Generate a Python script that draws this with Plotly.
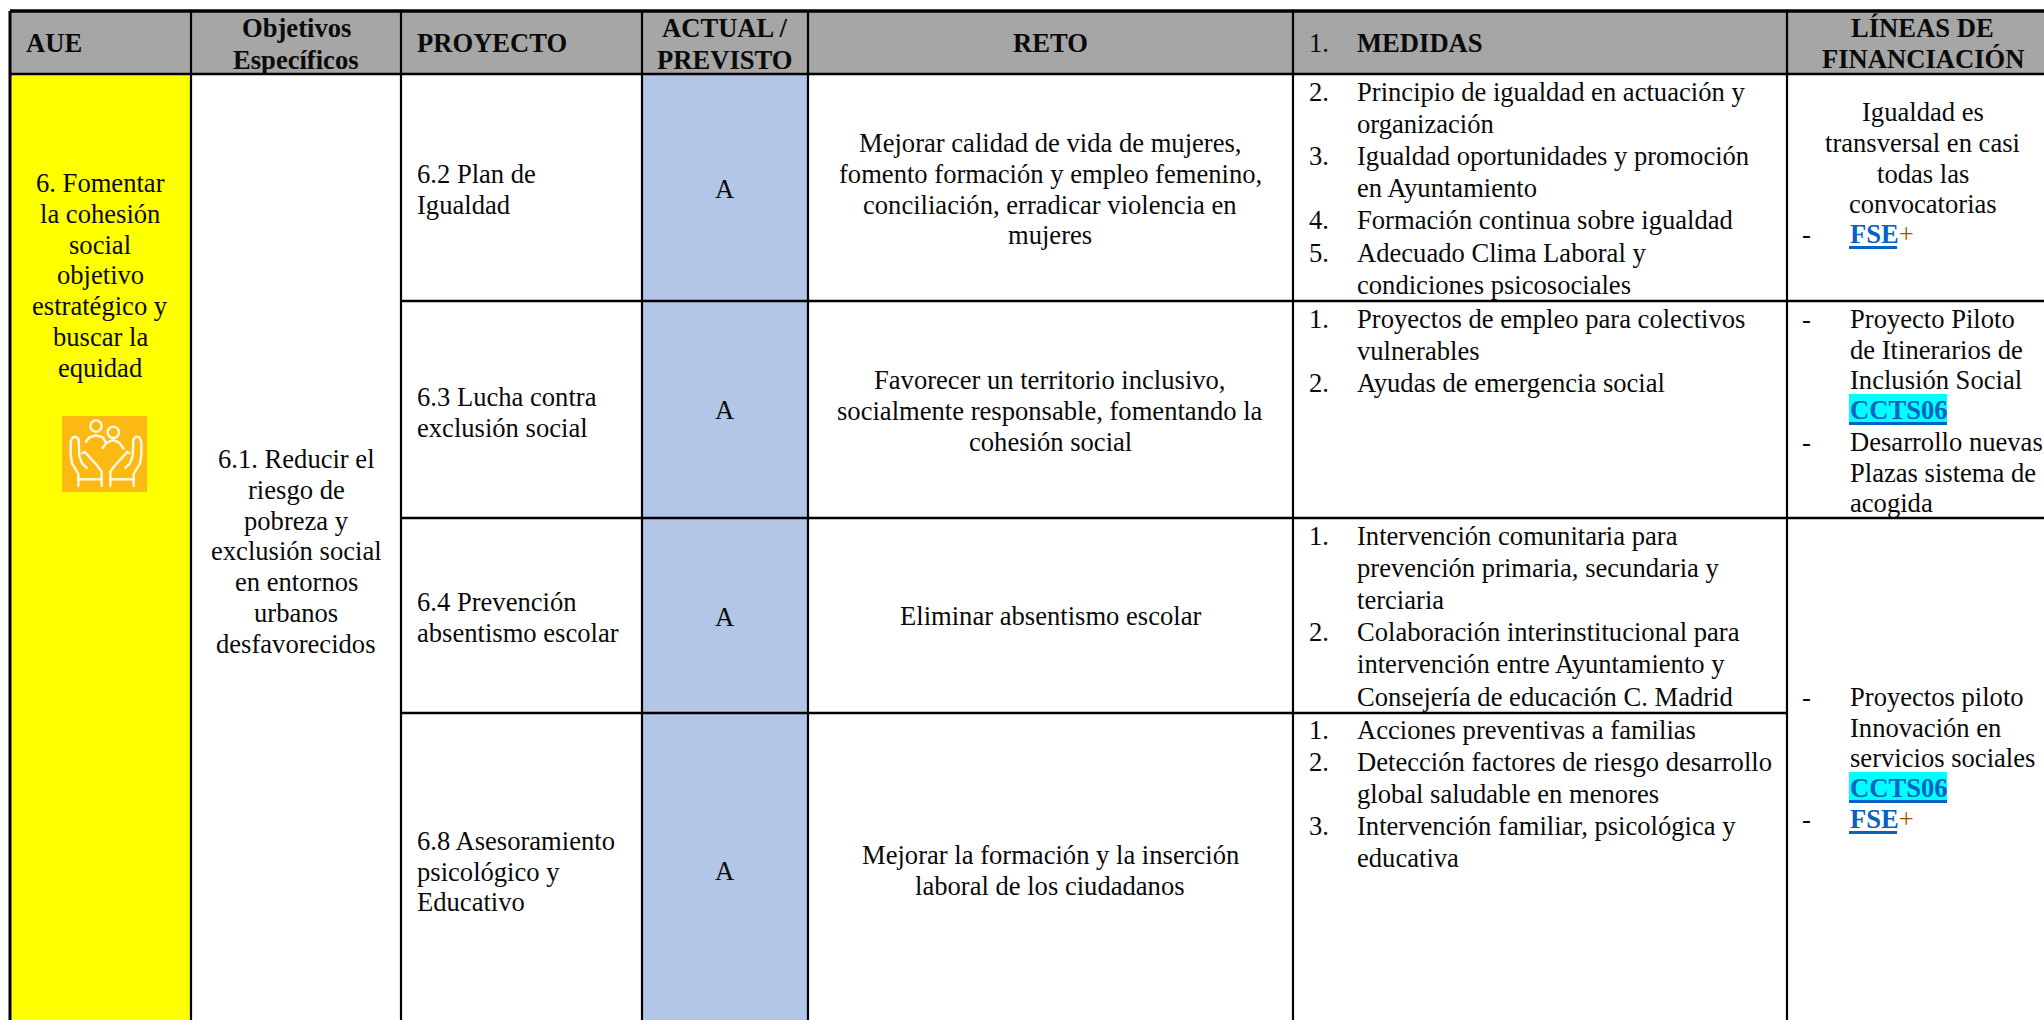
import plotly.graph_objects as go

W, H = 2044, 1020
FONT = "Liberation Serif"
BODY = 26.6
HEAD = 26.6

# ---- content ----
header_single = ["AUE", "PROYECTO", "RETO", "MEDIDAS"]
objetivos_head = ["Objetivos", "Específicos"]
actual_head = ["ACTUAL /", "PREVISTO"]
lineas_head = ["LÍNEAS DE", "FINANCIACIÓN"]
aue_lines = ["6. Fomentar", "la cohesión", "social", "objetivo", "estratégico y", "buscar la", "equidad"]
objetivo_lines = ["6.1. Reducir el", "riesgo de", "pobreza y", "exclusión social", "en entornos", "urbanos", "desfavorecidos"]
proyectos = [["6.2 Plan de", "Igualdad"], ["6.3 Lucha contra", "exclusión social"],
             ["6.4 Prevención", "absentismo escolar"], ["6.8 Asesoramiento", "psicológico y", "Educativo"]]
actual_values = ["A", "A", "A", "A"]
retos = [["Mejorar calidad de vida de mujeres,", "fomento formación y empleo femenino,",
          "conciliación, erradicar violencia en", "mujeres"],
         ["Favorecer un territorio inclusivo,", "socialmente responsable, fomentando la", "cohesión social"],
         ["Eliminar absentismo escolar"],
         ["Mejorar la formación y la inserción", "laboral de los ciudadanos"]]
medidas_num = [["2.", "", "3.", "", "4.", "5.", ""], ["1.", "", "2."], ["1.", "", "", "2.", "", ""], ["1.", "2.", "", "3.", ""]]
medidas = [["Principio de igualdad en actuación y", "organización", "Igualdad oportunidades y promoción",
            "en Ayuntamiento", "Formación continua sobre igualdad", "Adecuado Clima Laboral y", "condiciones psicosociales"],
           ["Proyectos de empleo para colectivos", "vulnerables", "Ayudas de emergencia social"],
           ["Intervención comunitaria para", "prevención primaria, secundaria y", "terciaria",
            "Colaboración interinstitucional para", "intervención entre Ayuntamiento y", "Consejería de educación C. Madrid"],
           ["Acciones preventivas a familias", "Detección factores de riesgo desarrollo", "global saludable en menores",
            "Intervención familiar, psicológica y", "educativa"]]
fin_center = ["Igualdad es", "transversal en casi", "todas las", "convocatorias"]
fin_row2a = ["Proyecto Piloto", "de Itinerarios de", "Inclusión Social"]
fin_row2b = ["Desarrollo nuevas", "Plazas sistema de", "acogida"]
fin_row3 = ["Proyectos piloto", "Innovación en", "servicios sociales"]
LINK_FSE, LINK_PLUS, LINK_CCTS = "FSE", "+", "CCTS06"

# ---- layout (pixels) ----
COLS = [10, 191, 401, 642, 808, 1293, 1787]
ROWS = [11, 74, 301, 518, 713, 1020]
C_HEAD, C_YEL, C_BLUE, C_ORANGE, C_CYAN = "#a6a6a6", "#ffff00", "#b4c6e7", "#fdb913", "#00ffff"
C_LINK, C_PLUS = "#0563c1", "#a84f10"

fig = go.Figure()
shapes, ann = [], []


def rect(x0, y0, x1, y1, color, layer="below"):
    shapes.append(dict(type="rect", xref="x", yref="y", x0=x0, y0=y0, x1=x1, y1=y1,
                       fillcolor=color, line_width=0, layer=layer))


def rule(x0, y0, x1, y1, w=2.5):
    shapes.append(dict(type="line", xref="x", yref="y", x0=x0, y0=y0, x1=x1, y1=y1,
                       line=dict(color="#000000", width=w)))


def text(s, x, y, anchor="left", size=BODY, bold=False, color="#0a0a0a"):
    if bold:
        s = f"<b>{s}</b>"
    ann.append(dict(text=s, x=x, y=y, xref="x", yref="y", xanchor=anchor, yanchor="middle",
                    showarrow=False, borderpad=0, font=dict(family=FONT, size=size, color=color)))


def block(lines, x, y0, step, anchor="left"):
    for i, s in enumerate(lines):
        if s:
            text(s, x, y0 + i * step, anchor)


# fills
rect(COLS[0], ROWS[0], W, ROWS[1], C_HEAD)
rect(COLS[0], ROWS[1], COLS[1], H, C_YEL)
rect(COLS[3], ROWS[1], COLS[4], H, C_BLUE)
rect(62, 416, 147, 492, C_ORANGE)
rect(1849, 394, 1947, 425, C_CYAN)
rect(1849, 772, 1947, 803, C_CYAN)
# link underlines
rect(1849, 422, 1947, 425, C_LINK)
rect(1849, 800, 1947, 803, C_LINK)
rect(1849, 246, 1897, 249, C_LINK)
rect(1849, 831, 1897, 834, C_LINK)

# rules
rule(COLS[0], ROWS[0], W, ROWS[0], 3.5)
rule(COLS[0], ROWS[1], W, ROWS[1], 2.5)
for y in ROWS[2:4]:
    rule(COLS[2], y, W, y, 2.5)
rule(COLS[2], ROWS[4], COLS[6], ROWS[4], 2.5)
rule(COLS[0], ROWS[0], COLS[0], H, 3)
for x in COLS[1:]:
    rule(x, ROWS[0], x, H, 2.2)

# header
y_mid, y_a, y_b = 43, 28, 60
text(header_single[0], 25, y_mid, size=HEAD, bold=True)
text(header_single[1], 416, y_mid, size=HEAD, bold=True)
text(header_single[2], 1050, y_mid, "center", size=HEAD, bold=True)
text("1.", 1308, y_mid, size=BODY)
text(header_single[3], 1356, y_mid, size=HEAD, bold=True)
for i, s in enumerate(objetivos_head):
    text(s, 296, y_a + i * (y_b - y_a), "center", size=HEAD, bold=True)
for i, s in enumerate(actual_head):
    text(s, 724.5, y_a + i * (y_b - y_a), "center", size=HEAD, bold=True)
for i, s in enumerate(lineas_head):
    text(s, 1922.5, y_a + i * (y_b - 1 - y_a), "center", size=HEAD, bold=True)

block(aue_lines, 100, 183, 30.8, "center")
block(objetivo_lines, 296, 459, 30.8, "center")

proj_y = [174, 397, 602, 841]
for lines, y in zip(proyectos, proj_y):
    block(lines, 416, y, 30.5)
for s, y in zip(actual_values, [189, 410, 617, 871]):
    text(s, 724.5, y, "center")
reto_y = [143, 380, 616, 855]
for lines, y in zip(retos, reto_y):
    block(lines, 1050, y, 30.8, "center")

med_y = [92, 319, 536, 730]
for nums, lines, y in zip(medidas_num, medidas, med_y):
    block(nums, 1308, y, 32.1)
    block(lines, 1356, y, 32.1)

block(fin_center, 1922.5, 112, 30.8, "center")
DASH, FX = 1801, 1849


def link(s, y, plus=False):
    label = f"<b>{s}</b>"
    if plus:
        label += f'<span style="color:{C_PLUS}">{LINK_PLUS}</span>'
    text(label, FX, y, color=C_LINK)


text("-", DASH, 234)
link(LINK_FSE, 234, True)
text("-", DASH, 319)
block(fin_row2a, FX, 319, 30.5)
link(LINK_CCTS, 410)
text("-", DASH, 442)
block(fin_row2b, FX, 442, 30.5)
text("-", DASH, 697)
block(fin_row3, FX, 697, 30.5)
link(LINK_CCTS, 788)
text("-", DASH, 819)
link(LINK_FSE, 819, True)

# icon (drawn at 3x in the local crop frame: y offset 400)
def ic(x, y):
    return x / 3, 400 + y / 3


def ipath(pts):
    d = ""
    for i, (x, y) in enumerate(pts):
        px, py = ic(x, y)
        d += ("M" if i == 0 else "L") + f"{px:.1f},{py:.1f} "
    shapes.append(dict(type="path", xref="x", yref="y", path=d, line=dict(color="#fff8e6", width=2.4)))


def icircle(cx, cy, r):
    x0, y0 = ic(cx - r, cy - r)
    x1, y1 = ic(cx + r, cy + r)
    shapes.append(dict(type="circle", xref="x", yref="y", x0=x0, y0=y0, x1=x1, y1=y1,
                       line=dict(color="#fff8e6", width=2.4)))


icircle(288, 78, 17)
icircle(340, 97, 17)
ipath([(256, 128), (268, 112), (288, 106), (308, 112), (318, 128)])
ipath([(306, 146), (320, 128), (340, 120), (358, 128), (372, 148)])
hand = [(235, 260), (235, 222), (216, 190), (212, 165), (212, 125), (218, 112), (228, 110), (236, 118), (238, 168),
        (246, 190), (262, 205)]
thumb = [(245, 160), (254, 156), (290, 195), (305, 215), (305, 260)]
cuff = [(232, 238), (305, 238)]
for part in (hand, thumb, cuff):
    ipath(part)
    ipath([(636 - x, y) for x, y in part])

fig.update_layout(
    width=W, height=H, autosize=False,
    margin=dict(l=0, r=0, t=0, b=0),
    paper_bgcolor="#ffffff", plot_bgcolor="#ffffff",
    showlegend=False, shapes=shapes, annotations=ann,
    xaxis=dict(range=[0, W], visible=False, fixedrange=True),
    yaxis=dict(range=[H, 0], visible=False, fixedrange=True),
)
fig.write_html("out.html", config={"displayModeBar": False},
               post_script="document.body.style.margin='0';document.body.style.overflow='hidden';")
